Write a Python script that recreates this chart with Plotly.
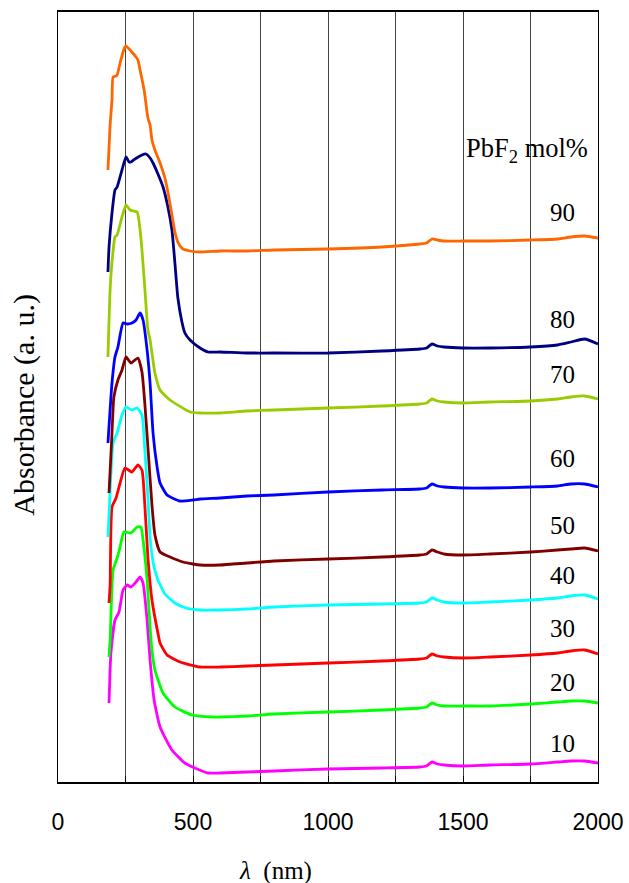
import plotly.graph_objects as go

# Absorption spectra of glasses with different PbF2 content (curves offset vertically)
NIR_WL = [600, 700, 800, 1000, 1200, 1340, 1365, 1385, 1405, 1430, 1500, 1600, 1750, 1850, 1900, 1950, 2000]

uv_wl_90 = [185, 193, 200, 204, 215, 219, 230, 241, 248, 252, 270, 289, 296, 304, 319, 333, 341, 348, 359, 378, 396, 407, 422, 433, 441, 452, 463, 489, 526]
uv_abs_90 = [6.12, 6.57, 6.82, 7.05, 7.06, 7.07, 7.19, 7.30, 7.35, 7.36, 7.31, 7.25, 7.22, 7.12, 6.92, 6.64, 6.57, 6.42, 6.32, 6.19, 6.04, 5.90, 5.67, 5.50, 5.42, 5.36, 5.33, 5.31, 5.30]
nir_abs_90 = [5.31, 5.31, 5.32, 5.33, 5.35, 5.38, 5.39, 5.43, 5.42, 5.41, 5.41, 5.41, 5.42, 5.43, 5.45, 5.46, 5.44]

uv_wl_80 = [185, 189, 200, 211, 219, 237, 252, 263, 270, 285, 311, 326, 341, 352, 367, 389, 407, 422, 433, 444, 459, 470, 489, 526, 556]
uv_abs_80 = [5.10, 5.35, 5.69, 5.92, 5.95, 6.12, 6.25, 6.20, 6.20, 6.23, 6.27, 6.28, 6.24, 6.19, 6.10, 5.95, 5.75, 5.52, 5.19, 4.84, 4.60, 4.49, 4.42, 4.34, 4.30]
nir_abs_80 = [4.30, 4.29, 4.29, 4.29, 4.31, 4.33, 4.34, 4.38, 4.36, 4.35, 4.34, 4.34, 4.35, 4.37, 4.40, 4.43, 4.38]

uv_wl_70 = [185, 193, 200, 211, 219, 237, 252, 267, 293, 304, 311, 322, 333, 341, 359, 378, 415, 489, 526]
uv_abs_70 = [4.25, 4.92, 5.20, 5.45, 5.47, 5.65, 5.77, 5.72, 5.70, 5.52, 5.32, 4.92, 4.52, 4.42, 4.09, 3.92, 3.82, 3.70, 3.69]
nir_abs_70 = [3.69, 3.71, 3.72, 3.74, 3.76, 3.78, 3.79, 3.83, 3.81, 3.80, 3.79, 3.80, 3.81, 3.83, 3.85, 3.86, 3.83]

uv_wl_60 = [185, 200, 211, 222, 241, 256, 274, 289, 304, 315, 330, 341, 352, 367, 378, 404, 452, 500, 526]
uv_abs_60 = [3.39, 3.99, 4.25, 4.35, 4.59, 4.58, 4.59, 4.62, 4.69, 4.62, 4.32, 3.99, 3.49, 3.15, 2.99, 2.87, 2.81, 2.82, 2.83]
nir_abs_60 = [2.84, 2.86, 2.87, 2.90, 2.92, 2.93, 2.94, 2.98, 2.96, 2.95, 2.94, 2.94, 2.95, 2.96, 2.98, 2.98, 2.95]

uv_wl_50 = [189, 200, 207, 222, 237, 252, 270, 296, 311, 322, 333, 348, 359, 378, 415, 463, 500, 526]
uv_abs_50 = [2.89, 3.49, 3.85, 4.02, 4.12, 4.25, 4.19, 4.24, 4.10, 3.77, 3.35, 2.77, 2.47, 2.30, 2.25, 2.20, 2.18, 2.17]
nir_abs_50 = [2.17, 2.19, 2.21, 2.23, 2.25, 2.27, 2.28, 2.32, 2.30, 2.28, 2.27, 2.28, 2.30, 2.32, 2.33, 2.34, 2.31]

uv_wl_40 = [185, 189, 204, 219, 237, 252, 274, 293, 311, 322, 333, 341, 352, 370, 396, 433, 474, 526]
uv_abs_40 = [2.45, 2.67, 3.39, 3.49, 3.67, 3.75, 3.72, 3.74, 3.67, 3.30, 2.85, 2.45, 2.20, 2.02, 1.88, 1.79, 1.74, 1.72]
nir_abs_40 = [1.72, 1.73, 1.75, 1.77, 1.78, 1.79, 1.80, 1.84, 1.82, 1.80, 1.79, 1.80, 1.82, 1.84, 1.86, 1.87, 1.83]

uv_wl_30 = [189, 193, 200, 215, 230, 248, 274, 296, 311, 322, 333, 348, 370, 378, 404, 452, 526]
uv_abs_30 = [1.79, 1.97, 2.75, 2.84, 2.99, 3.14, 3.10, 3.17, 3.12, 2.75, 2.25, 1.82, 1.49, 1.39, 1.27, 1.20, 1.15]
nir_abs_30 = [1.15, 1.16, 1.17, 1.19, 1.21, 1.23, 1.24, 1.28, 1.26, 1.25, 1.24, 1.25, 1.27, 1.29, 1.31, 1.32, 1.28]

uv_wl_20 = [189, 193, 204, 219, 230, 244, 270, 293, 307, 315, 330, 341, 348, 359, 389, 433, 496, 574]
uv_abs_20 = [1.25, 1.42, 2.12, 2.24, 2.35, 2.50, 2.49, 2.55, 2.55, 2.42, 2.02, 1.55, 1.32, 1.12, 0.89, 0.75, 0.67, 0.65]
nir_abs_20 = [0.65, 0.66, 0.68, 0.70, 0.72, 0.74, 0.75, 0.79, 0.77, 0.76, 0.76, 0.76, 0.78, 0.80, 0.81, 0.81, 0.79]

uv_wl_10 = [189, 196, 211, 226, 241, 256, 270, 289, 304, 315, 330, 341, 356, 378, 422, 470, 507, 556]
uv_abs_10 = [0.79, 1.29, 1.62, 1.70, 1.92, 1.97, 1.95, 2.00, 2.05, 1.99, 1.62, 1.22, 0.82, 0.55, 0.32, 0.19, 0.14, 0.09]
nir_abs_10 = [0.09, 0.10, 0.11, 0.13, 0.14, 0.15, 0.16, 0.20, 0.18, 0.17, 0.16, 0.17, 0.18, 0.20, 0.21, 0.21, 0.19]

SERIES = [
    ("10", uv_wl_10, uv_abs_10, nir_abs_10, "#FF00FF", 0.39),
    ("20", uv_wl_20, uv_abs_20, nir_abs_20, "#00FF00", 1.00),
    ("30", uv_wl_30, uv_abs_30, nir_abs_30, "#FF0000", 1.54),
    ("40", uv_wl_40, uv_abs_40, nir_abs_40, "#00FFFF", 2.07),
    ("50", uv_wl_50, uv_abs_50, nir_abs_50, "#800000", 2.57),
    ("60", uv_wl_60, uv_abs_60, nir_abs_60, "#0000FF", 3.24),
    ("70", uv_wl_70, uv_abs_70, nir_abs_70, "#99CC00", 4.08),
    ("80", uv_wl_80, uv_abs_80, nir_abs_80, "#000080", 4.63),
    ("90", uv_wl_90, uv_abs_90, nir_abs_90, "#FF6600", 5.70),
]
LABEL_WL = 1867
HEADER_WL, HEADER_ABS = 1737, 6.32
X_TICKS = [0, 500, 1000, 1500, 2000]

SERIF = "Liberation Serif, Times New Roman, serif"
SANS = "Liberation Sans, Arial, sans-serif"

fig = go.Figure()
annotations = []
for name, wl_uv, a_uv, a_nir, color, label_y in SERIES:
    fig.add_trace(go.Scatter(
        x=wl_uv + NIR_WL, y=a_uv + a_nir, mode="lines", name=name,
        line=dict(color=color, width=2.8, shape="spline", smoothing=0.5),
        showlegend=False, hoverinfo="skip",
    ))
    annotations.append(dict(x=LABEL_WL, y=label_y, xref="x", yref="y", text=name,
                            xanchor="center", yanchor="middle", showarrow=False,
                            font=dict(family=SERIF, size=25, color="black")))

annotations.append(dict(x=HEADER_WL, y=HEADER_ABS, xref="x", yref="y",
                        xanchor="center", yanchor="middle",
                        text="PbF<sub>2</sub> mol%", showarrow=False,
                        font=dict(family=SERIF, size=26.5, color="black")))
annotations.append(dict(x=0.402, y=-0.115, xref="paper", yref="paper",
                        xanchor="center", yanchor="middle",
                        text="<i>λ</i>  (nm)", showarrow=False,
                        font=dict(family=SERIF, size=25, color="black")))
annotations.append(dict(x=-0.063, y=0.49, xref="paper", yref="paper", textangle=-90,
                        xanchor="center", yanchor="middle",
                        text="Absorbance (a. u.)", showarrow=False,
                        font=dict(family=SERIF, size=30, color="black")))

fig.update_layout(
    width=629, height=883,
    margin=dict(l=58, r=31, t=12, b=101, autoexpand=False),
    paper_bgcolor="white", plot_bgcolor="white",
    annotations=annotations,
    xaxis=dict(
        range=[0, 2000], tickvals=X_TICKS, ticktext=[str(v) for v in X_TICKS],
        automargin=False,
        ticks="inside", ticklen=6, tickcolor="black", ticklabelstandoff=19,
        tickfont=dict(family=SANS, size=23, color="black"),
        showgrid=True, gridcolor="#444444", gridwidth=1,
        minor=dict(dtick=250, ticks="inside", ticklen=6, tickcolor="black",
                   showgrid=True, gridcolor="#444444", gridwidth=1),
        showline=True, linecolor="black", linewidth=1.5, mirror=True, zeroline=False,
    ),
    yaxis=dict(
        range=[0, 7.70], showticklabels=False, ticks="", showgrid=False, automargin=False,
        showline=True, linecolor="black", linewidth=1, mirror=True, zeroline=False,
    ),
)

fig.write_html("out.html")
